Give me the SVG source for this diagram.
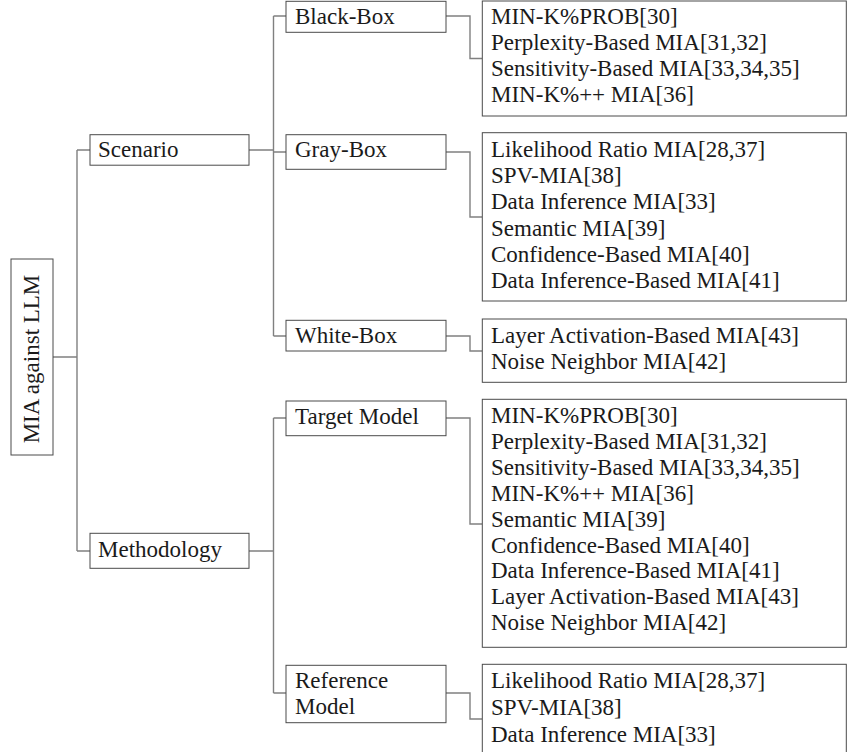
<svg xmlns="http://www.w3.org/2000/svg" width="847" height="752" viewBox="0 0 847 752">
<style>
  .box { fill: #ffffff; stroke: #4a4a4a; stroke-width: 1; }
  .t { font-family: "Liberation Serif", "Times New Roman", serif; font-size: 23px; fill: #1a1a1a; }
  .c { fill: none; stroke: #808080; stroke-width: 1.4; }
</style>
<rect width="847" height="752" fill="#ffffff"/>
<g id="connectors">
  <path class="c" d="M53,357 H77 M77,150 V551 M77,150 H90 M77,551 H90"/>
  <path class="c" d="M249,150 H273.5 M273.5,16 V336 M273.5,16 H286 M273.5,152 H286 M273.5,336 H286"/>
  <path class="c" d="M249,551 H273.5 M273.5,418 V693 M273.5,418 H286 M273.5,693 H286"/>
  <path class="c" d="M446,16 H470 V58.5 H482"/>
  <path class="c" d="M446,152 H470 V217 H482"/>
  <path class="c" d="M446,336 H470 V351 H482"/>
  <path class="c" d="M446,418 H470 V524 H482"/>
  <path class="c" d="M446,693 H470 V719 H482"/>
</g>
<g id="root">
  <rect class="box" x="11" y="259" width="42" height="196"/>
  <text class="t" text-anchor="middle" transform="translate(38.5,359) rotate(-90)">MIA against LLM</text>
</g>
<g id="scenario">
  <rect class="box" x="90" y="134.7" width="159" height="30.5"/>
  <text class="t" x="98" y="157">Scenario</text>
</g>
<g id="methodology">
  <rect class="box" x="90" y="533.3" width="159" height="35"/>
  <text class="t" x="98" y="556.5">Methodology</text>
</g>
<g id="black-box">
  <rect class="box" x="286" y="1.3" width="160" height="31"/>
  <text class="t" x="295" y="24">Black-Box</text>
</g>
<g id="gray-box">
  <rect class="box" x="286" y="134.7" width="160" height="34.6"/>
  <text class="t" x="295" y="157">Gray-Box</text>
</g>
<g id="white-box">
  <rect class="box" x="286" y="320.3" width="160" height="30.7"/>
  <text class="t" x="295" y="343">White-Box</text>
</g>
<g id="target-model">
  <rect class="box" x="286" y="401" width="160" height="34.7"/>
  <text class="t" x="295" y="423.5">Target Model</text>
</g>
<g id="reference-model">
  <rect class="box" x="286" y="665.3" width="160" height="57.4"/>
  <text class="t" x="295" y="688.3">Reference</text>
  <text class="t" x="295" y="714">Model</text>
</g>
<g id="leaf-black">
  <rect class="box" x="482.3" y="1" width="364" height="115"/>
  <text class="t" x="491" y="24">MIN-K%PROB[30]</text>
  <text class="t" x="491" y="50">Perplexity-Based MIA[31,32]</text>
  <text class="t" x="491" y="76">Sensitivity-Based MIA[33,34,35]</text>
  <text class="t" x="491" y="102">MIN-K%++ MIA[36]</text>
</g>
<g id="leaf-gray">
  <rect class="box" x="482.3" y="132.7" width="364" height="168.3"/>
  <text class="t" x="491" y="157">Likelihood Ratio MIA[28,37]</text>
  <text class="t" x="491" y="183.2">SPV-MIA[38]</text>
  <text class="t" x="491" y="209.4">Data Inference MIA[33]</text>
  <text class="t" x="491" y="235.6">Semantic MIA[39]</text>
  <text class="t" x="491" y="261.8">Confidence-Based MIA[40]</text>
  <text class="t" x="491" y="288">Data Inference-Based MIA[41]</text>
</g>
<g id="leaf-white">
  <rect class="box" x="482.3" y="319" width="364" height="63.3"/>
  <text class="t" x="491" y="343">Layer Activation-Based MIA[43]</text>
  <text class="t" x="491" y="369">Noise Neighbor MIA[42]</text>
</g>
<g id="leaf-target">
  <rect class="box" x="482.3" y="399.3" width="364" height="248"/>
  <text class="t" x="491" y="423">MIN-K%PROB[30]</text>
  <text class="t" x="491" y="448.9">Perplexity-Based MIA[31,32]</text>
  <text class="t" x="491" y="474.8">Sensitivity-Based MIA[33,34,35]</text>
  <text class="t" x="491" y="500.7">MIN-K%++ MIA[36]</text>
  <text class="t" x="491" y="526.6">Semantic MIA[39]</text>
  <text class="t" x="491" y="552.5">Confidence-Based MIA[40]</text>
  <text class="t" x="491" y="578.4">Data Inference-Based MIA[41]</text>
  <text class="t" x="491" y="604.3">Layer Activation-Based MIA[43]</text>
  <text class="t" x="491" y="630.2">Noise Neighbor MIA[42]</text>
</g>
<g id="leaf-reference">
  <rect class="box" x="482.3" y="664.3" width="364" height="109"/>
  <text class="t" x="491" y="688.3">Likelihood Ratio MIA[28,37]</text>
  <text class="t" x="491" y="714.8">SPV-MIA[38]</text>
  <text class="t" x="491" y="741.5">Data Inference MIA[33]</text>
</g>
</svg>
